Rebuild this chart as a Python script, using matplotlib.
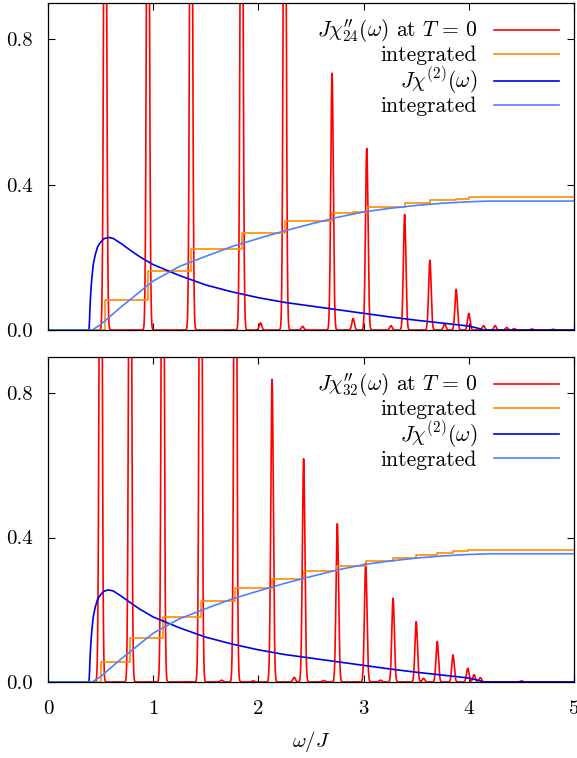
import numpy as np
import matplotlib
matplotlib.use("Agg")
import matplotlib.pyplot as plt

plt.rcParams["font.family"] = "serif"
plt.rcParams["font.serif"] = ["cmr10"]
plt.rcParams["mathtext.fontset"] = "cm"
plt.rcParams["axes.unicode_minus"] = False
plt.rcParams["axes.formatter.use_mathtext"] = True

# peak positions / heights of the dynamic susceptibility, chain lengths 24 and 32
# (heights above 0.9 are off scale)
peaks24_w = [0.543, 0.95, 1.36, 1.84, 2.02, 2.25, 2.42, 2.70, 2.90, 3.03, 3.26, 3.39,
             3.63, 3.77, 3.88, 4.00, 4.14, 4.25, 4.36, 4.43, 4.6, 4.8]
peaks24_h = [2.0, 2.0, 2.0, 2.0, 0.02, 2.0, 0.01, 0.707, 0.032, 0.50, 0.012, 0.318,
             0.192, 0.016, 0.112, 0.046, 0.012, 0.012, 0.007, 0.004, 0.003, 0.002]

peaks32_w = [0.50, 0.78, 1.09, 1.45, 1.65, 1.78, 1.95, 2.13, 2.34, 2.43, 2.62, 2.75,
             3.02, 3.16, 3.28, 3.50, 3.57, 3.70, 3.85, 3.99, 4.05, 4.11, 4.5]
peaks32_h = [2.0, 2.0, 2.0, 2.0, 0.005, 2.0, 0.003, 0.838, 0.013, 0.618, 0.004, 0.438,
             0.33, 0.005, 0.232, 0.167, 0.01, 0.112, 0.075, 0.038, 0.02, 0.012, 0.003]
peak_sigma = 0.012

# integrated weight of the peaks (steps)
steps24_w = [0.0, 0.543, 0.95, 1.36, 1.84, 2.25, 2.70, 2.90, 3.03, 3.39, 3.63, 3.88,
             4.00, 4.14, 4.25, 5.0]
steps24_v = [0.0, 0.083, 0.162, 0.224, 0.268, 0.299, 0.323, 0.326, 0.338, 0.350,
             0.357, 0.362, 0.365, 0.366, 0.367, 0.367]

steps32_w = [0.0, 0.50, 0.78, 1.09, 1.45, 1.78, 2.13, 2.43, 2.75, 3.02, 3.28, 3.50,
             3.70, 3.85, 3.99, 4.10, 5.0]
steps32_v = [0.0, 0.054, 0.123, 0.181, 0.224, 0.259, 0.285, 0.307, 0.320, 0.335,
             0.342, 0.351, 0.357, 0.362, 0.365, 0.366, 0.366]

# two-spinon continuum chi^(2)
chi2_w = [0.0, 0.39, 0.395, 0.40, 0.408, 0.416, 0.43, 0.448, 0.47, 0.495, 0.53, 0.574,
          0.62, 0.70, 0.80, 0.876, 1.0, 1.1, 1.25, 1.5, 1.75, 2.0, 2.25, 2.5, 2.75,
          3.0, 3.25, 3.5, 3.75, 4.0, 4.1, 4.14, 5.0]
chi2_v = [0.0, 0.0, 0.03, 0.07, 0.11, 0.14, 0.18, 0.206, 0.228, 0.240, 0.251, 0.255,
          0.252, 0.237, 0.216, 0.201, 0.180, 0.168, 0.150, 0.124, 0.105, 0.089, 0.076,
          0.066, 0.056, 0.046, 0.036, 0.027, 0.019, 0.011, 0.004, 0.0, 0.0]

# its integral
int2_w = [0.0, 0.42, 0.5, 0.56, 0.7, 0.8, 0.9, 1.0, 1.25, 1.5, 1.75, 2.0, 2.25, 2.5,
          2.75, 3.0, 3.25, 3.5, 3.75, 4.0, 4.2, 5.0]
int2_v = [0.0, 0.0, 0.015, 0.03, 0.065, 0.088, 0.112, 0.135, 0.175, 0.203, 0.23, 0.252,
          0.273, 0.292, 0.31, 0.325, 0.335, 0.343, 0.349, 0.353, 0.355, 0.355]

RED = "#ff0000"
ORANGE = "#ff8c00"
BLUE = "#0000e6"
LBLUE = "#5080ff"


def spectrum(w, centres, heights):
    s = np.zeros_like(w)
    for c, h in zip(centres, heights):
        s += h * np.exp(-0.5 * ((w - c) / peak_sigma) ** 2)
    return s


def panel(ax, pw, ph, sw, sv, sub):
    w = np.linspace(0, 5, 4001)
    ax.plot(w, spectrum(w, pw, ph), color=RED, lw=1.2,
            label=r"$J\chi^{\prime\prime}_{%s}(\omega)$ at $T\,=\,0$" % sub)
    ax.plot(sw, sv, color=ORANGE, lw=1.2, drawstyle="steps-post", label="integrated")
    ax.plot(chi2_w, chi2_v, color=BLUE, lw=1.2, label=r"$J\chi^{(2)}(\omega)$")
    ax.plot(int2_w, int2_v, color=LBLUE, lw=1.2, label="integrated")
    ax.set_xlim(0, 5)
    ax.set_ylim(0, 0.9)
    ax.set_yticks([0.0, 0.4, 0.8])
    ax.set_yticklabels(["0.0", "0.4", "0.8"])
    ax.set_xticks([0, 1, 2, 3, 4, 5])
    ax.tick_params(direction="in", top=True, right=True, length=5, width=0.8,
                   labelsize=15)
    ax.tick_params(axis="y", pad=11)
    ax.tick_params(axis="x", pad=13)
    for s in ax.spines.values():
        s.set_linewidth(0.9)
    ax.legend(loc="upper right", frameon=False, markerfirst=False, fontsize=15.5,
              handlelength=3.0, handletextpad=0.8, labelspacing=0.02,
              borderaxespad=0.3)


fig = plt.figure(figsize=(5.77, 7.58), dpi=100)
ax1 = fig.add_axes([0.0832, 0.5646, 0.9116, 0.4314])
ax2 = fig.add_axes([0.0832, 0.1003, 0.9116, 0.4288])

panel(ax1, peaks24_w, peaks24_h, steps24_w, steps24_v, "24")
panel(ax2, peaks32_w, peaks32_h, steps32_w, steps32_v, "32")
ax1.set_xticklabels([])
ax2.set_xticklabels(["0", "1", "2", "3", "4", "5"])
ax2.set_xlabel(r"$\omega/J$", fontsize=15, labelpad=8)

fig.savefig("out.png", dpi=100)
